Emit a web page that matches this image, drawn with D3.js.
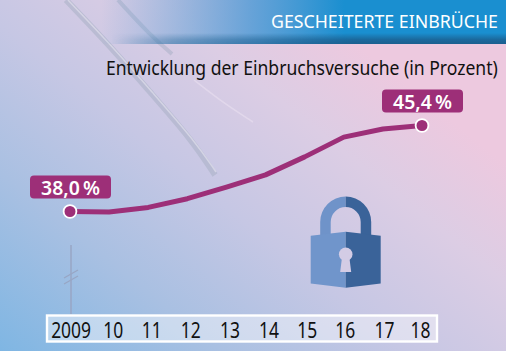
<!DOCTYPE html>
<html>
<head>
<meta charset="utf-8">
<script src="https://cdn.jsdelivr.net/npm/d3@7"></script>
<style>
  html, body { margin: 0; padding: 0; background: #fff; }
  svg { display: block; }
  text { font-family: "Noto Sans", "Open Sans", sans-serif; }
</style>
</head>
<body>
<div id="chart"></div>
<script>
const years = ["2009", "10", "11", "12", "13", "14", "15", "16", "17", "18"]
const attempts = [38.0, 37.95, 38.35, 39.1, 40.1, 41.15, 42.7, 44.4, 45.1, 45.4]
const value_labels = { 0: "38,0\u2009%", 9: "45,4\u2009%" }
const title_text = "GESCHEITERTE EINBRÜCHE"
const subtitle_text = "Entwicklung der Einbruchsversuche (in Prozent)"

const width = 506
const height = 351
const purple = "#9d2f78"

const svg = d3.select("#chart").append("svg")
  .attr("width", width)
  .attr("height", height)
const defs = svg.append("defs")

// squeeze a text sideways to the width it has in the picture
function fit_width(node, target, x, y) {
  const natural = node.getComputedTextLength()
  d3.select(node)
    .attr("x", 0).attr("y", 0).attr("dx", null).attr("dy", null)
    .attr("transform", `translate(${x},${y}) scale(${target / natural},1)`)
}

// background wash, blue bottom left to pink on the right
const bg = defs.append("linearGradient")
  .attr("id", "bg")
  .attr("gradientUnits", "userSpaceOnUse")
  .attr("x1", 0).attr("y1", 351)
  .attr("x2", 290).attr("y2", -10)
bg.selectAll("stop")
  .data([[0, "#7fb6e3"], [0.3, "#a9c0e2"], [0.55, "#c6c7e4"], [0.8, "#dccde4"], [1, "#edc9df"]])
  .enter().append("stop")
  .attr("offset", d => d[0])
  .attr("stop-color", d => d[1])

const head = defs.append("linearGradient").attr("id", "head")
head.selectAll("stop")
  .data([[0.2, "#4f9bd6", 0], [0.5, "#4f9bd6", 0.85], [0.68, "#1a8fd0", 1], [1, "#1a8fd0", 1]])
  .enter().append("stop")
  .attr("offset", d => d[0])
  .attr("stop-color", d => d[1])
  .attr("stop-opacity", d => d[2])

// dark lower edge of the header, fades out to the left
const head_shade = defs.append("linearGradient")
  .attr("id", "head_shade")
  .attr("x1", 0).attr("y1", 0).attr("x2", 0).attr("y2", 1)
head_shade.selectAll("stop")
  .data([[0, "#1c5f8f", 0], [0.6, "#1c5f8f", 0.8], [1, "#1c5f8f", 1]])
  .enter().append("stop")
  .attr("offset", d => d[0])
  .attr("stop-color", d => d[1])
  .attr("stop-opacity", d => d[2])

const fade = defs.append("linearGradient").attr("id", "fade")
fade.selectAll("stop")
  .data([[0.22, 0], [0.34, 0.4], [0.52, 0.65], [0.7, 1]])
  .enter().append("stop")
  .attr("offset", d => d[0])
  .attr("stop-color", "#fff")
  .attr("stop-opacity", d => d[1])
defs.append("mask").attr("id", "fade_mask")
  .attr("maskUnits", "userSpaceOnUse")
  .attr("x", 0).attr("y", 0).attr("width", width).attr("height", 44)
  .append("rect").attr("width", width).attr("height", 44).attr("fill", "url(#fade)")

svg.append("rect").attr("width", width).attr("height", height).attr("fill", "url(#bg)")

// the pale streaks behind the chart
const streak = d3.line().curve(d3.curveBasis)
const streaks = [
  { d: [[66, 0], [110, 46], [150, 92], [192, 140], [215, 175]], w: 6, c: "#abb3c8", o: 0.6 },
  { d: [[68, 0], [112, 46], [152, 92], [194, 140], [216, 172]], w: 1.5, c: "#e6e4f0", o: 0.6 },
  { d: [[118, 0], [150, 35], [172, 54]], w: 4, c: "#a5aec4", o: 0.5 },
  { d: [[194, 80], [222, 102], [253, 122]], w: 1.5, c: "#e9dff0", o: 0.6 }
]
svg.append("g").selectAll("path").data(streaks).enter().append("path")
  .attr("d", d => streak(d.d))
  .attr("fill", "none")
  .attr("stroke", d => d.c)
  .attr("stroke-width", d => d.w)
  .attr("stroke-opacity", d => d.o)

// header band
svg.append("rect").attr("width", width).attr("height", 44).attr("fill", "url(#head)")
svg.append("rect").attr("y", 33).attr("width", width).attr("height", 11)
  .attr("fill", "url(#head_shade)").attr("mask", "url(#fade_mask)")
svg.append("text")
  .attr("font-size", 19)
  .attr("fill", "#fff")
  .text(title_text)
  .each(function () { fit_width(this, 227, 271, 27.5) })

svg.append("text")
  .attr("font-size", 20)
  .attr("fill", "#111")
  .text(subtitle_text)
  .each(function () { fit_width(this, 392, 106, 75) })

const x_scale = d3.scalePoint().domain(years).range([70, 422])
const y_scale = d3.scaleLinear().domain([38, 45.4]).range([211.5, 125.5])

// broken axis stub under the first point
const stub = svg.append("g")
  .attr("transform", `translate(${x_scale("2009") + 1},0)`)
  .attr("stroke", "#98a6c4")
  .attr("fill", "none")
stub.append("line").attr("y1", 245).attr("y2", 314).attr("stroke-width", 1.5)
stub.append("line").attr("x1", -7).attr("x2", 7).attr("y1", 278).attr("y2", 270).attr("stroke-width", 1.2)
stub.append("line").attr("x1", -7).attr("x2", 7).attr("y1", 284).attr("y2", 276).attr("stroke-width", 1.2)

// year strip
svg.append("rect")
  .attr("x", 47).attr("y", 315.5)
  .attr("width", 390).attr("height", 26)
  .attr("fill", "#fff").attr("fill-opacity", 0.42)
  .attr("stroke", "#fff").attr("stroke-width", 2.4)

const tick_nudge = [0.6, 3.7, 3, 3, 3, 3, 2, 1, 1, -2]
const x_axis = svg.append("g")
  .attr("transform", "translate(0,337.500)")
  .call(d3.axisBottom(x_scale).tickSize(0).tickPadding(0))
x_axis.select(".domain").remove()
x_axis.selectAll("text")
  .attr("font-size", 21)
  .attr("fill", "#111")
  .style("font-family", '"Noto Sans", sans-serif')
  .each(function (d, i) { fit_width(this, d.length * 10, tick_nudge[i], 0) })

const line = d3.line()
  .x((d, i) => x_scale(years[i]))
  .y(d => y_scale(d))
svg.append("path")
  .attr("d", line(attempts))
  .attr("fill", "none")
  .attr("stroke", purple)
  .attr("stroke-width", 5)
  .attr("stroke-linejoin", "round")

const labelled = attempts.map((v, i) => ({ v, i })).filter(d => value_labels[d.i])

svg.append("g").selectAll("circle").data(labelled).enter().append("circle")
  .attr("cx", d => x_scale(years[d.i]))
  .attr("cy", d => y_scale(d.v))
  .attr("r", 6.4)
  .attr("fill", purple)
  .attr("stroke", "#fff")
  .attr("stroke-width", 1.8)

const tags = svg.append("g").selectAll("g").data(labelled).enter().append("g")
  .attr("transform", d => `translate(${x_scale(years[d.i]) + 0.5},${y_scale(d.v)})`)
tags.append("rect")
  .attr("x", -40.5).attr("y", -36)
  .attr("width", 81).attr("height", 23)
  .attr("rx", 4)
  .attr("fill", purple)
tags.append("text")
  .attr("text-anchor", "middle")
  .attr("font-size", 20)
  .attr("font-weight", 600)
  .attr("fill", "#fff")
  .text(d => value_labels[d.i])
  .each(function () { fit_width(this, 59, 0, -17) })

// padlock, two halves
const lock = svg.append("g").attr("transform", "translate(345.700,0)")
const shackle = d3.arc().innerRadius(15).outerRadius(25.5)
lock.append("path")
  .attr("transform", "translate(0,222)")
  .attr("d", shackle({ startAngle: -Math.PI / 2, endAngle: 0 }))
  .attr("fill", "#6f93c9")
lock.append("path")
  .attr("transform", "translate(0,222)")
  .attr("d", shackle({ startAngle: 0, endAngle: Math.PI / 2 }))
  .attr("fill", "#3a6399")
lock.append("rect").attr("x", -25.5).attr("y", 222).attr("width", 10.5).attr("height", 16).attr("fill", "#6f93c9")
lock.append("rect").attr("x", 15).attr("y", 222).attr("width", 10.5).attr("height", 16).attr("fill", "#3a6399")
lock.append("path").attr("d", "M-35,235.700 L0,231.700 L0,287.700 L-35,283.500 Z").attr("fill", "#7095cb")
lock.append("path").attr("d", "M0,231.700 L35,235.700 L35,283.500 L0,287.700 Z").attr("fill", "#3a6399")
lock.append("circle").attr("cy", 254.3).attr("r", 6.8).attr("fill", "#d3cce5")
lock.append("path").attr("d", "M-3.500,256 L3.500,256 L5.500,272 L-5.500,272 Z").attr("fill", "#d3cce5")
</script>
</body>
</html>
